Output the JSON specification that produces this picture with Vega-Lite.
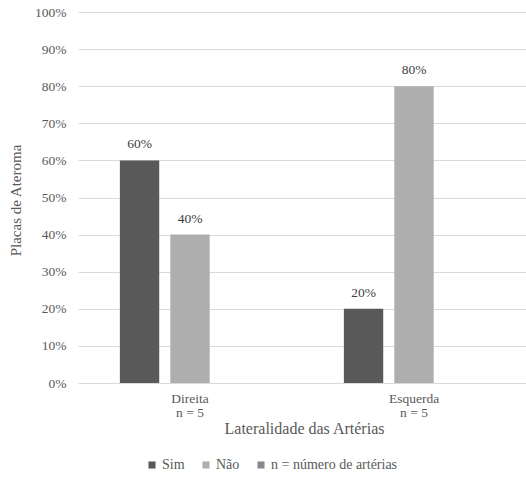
{
  "$schema": "https://vega.github.io/schema/vega-lite/v6.json",
  "width": 448,
  "height": 371,
  "autosize": {"type": "none"},
  "padding": {"left": 78, "top": 12, "right": 0, "bottom": 97},
  "background": "white",
  "config": {
    "font": "Liberation Serif, serif",
    "view": {"stroke": null}
  },
  "data": {
    "values": [
      {"lado": "Direita", "serie": "Sim", "valor": 0.6},
      {"lado": "Direita", "serie": "Não", "valor": 0.4},
      {"lado": "Direita", "serie": "n = número de artérias", "valor": null},
      {"lado": "Esquerda", "serie": "Sim", "valor": 0.2},
      {"lado": "Esquerda", "serie": "Não", "valor": 0.8},
      {"lado": "Esquerda", "serie": "n = número de artérias", "valor": null}
    ]
  },
  "encoding": {
    "x": {
      "field": "lado",
      "type": "nominal",
      "sort": ["Direita", "Esquerda"],
      "scale": {"paddingInner": 0, "paddingOuter": 0},
      "axis": {
        "title": "Lateralidade das Artérias",
        "titleFont": "Liberation Serif, serif",
        "titleFontSize": 16,
        "titleFontWeight": "normal",
        "titleColor": "#595959",
        "titleX": 226,
        "titleY": 45,
        "titleBaseline": "middle",
        "labelAngle": 0,
        "labelExpr": "[datum.value, 'n = 5']",
        "labelFont": "Liberation Serif, serif",
        "labelFontSize": 13.5,
        "labelColor": "#595959",
        "labelPadding": 8,
        "labelLineHeight": 14,
        "domain": false,
        "ticks": false
      }
    },
    "xOffset": {
      "field": "serie",
      "type": "nominal",
      "sort": ["Sim", "Não", "n = número de artérias"],
      "scale": {"paddingInner": 0.22, "paddingOuter": 0.83}
    },
    "y": {
      "field": "valor",
      "type": "quantitative",
      "scale": {"domain": [0, 1], "nice": false},
      "axis": {
        "title": "Placas de Ateroma",
        "titleFont": "Liberation Serif, serif",
        "titleFontSize": 15,
        "titleFontWeight": "normal",
        "titleColor": "#595959",
        "titleX": -63,
        "titleY": 188,
        "titleAngle": -90,
        "titleAlign": "center",
        "titleBaseline": "middle",
        "values": [0, 0.1, 0.2, 0.3, 0.4, 0.5, 0.6, 0.7, 0.8, 0.9, 1],
        "format": ".0%",
        "labelFont": "Liberation Serif, serif",
        "labelFontSize": 13.5,
        "labelColor": "#595959",
        "labelPadding": 12,
        "grid": true,
        "gridColor": "#d9d9d9",
        "gridWidth": 1,
        "domain": false,
        "ticks": false
      }
    }
  },
  "layer": [
    {
      "mark": {"type": "bar"},
      "encoding": {
        "color": {
          "field": "serie",
          "type": "nominal",
          "sort": ["Sim", "Não", "n = número de artérias"],
          "scale": {
            "domain": ["Sim", "Não", "n = número de artérias"],
            "range": ["#595959", "#aeaeae", "#898989"]
          },
          "legend": {
            "title": null,
            "orient": "none",
            "legendX": 67,
            "legendY": 446,
            "direction": "horizontal",
            "symbolType": "square",
            "symbolSize": 50,
            "symbolStrokeWidth": 0,
            "symbolOffset": 0,
            "labelOffset": 3,
            "columnPadding": 14,
            "labelFont": "Liberation Serif, serif",
            "labelFontSize": 14,
            "labelColor": "#595959"
          }
        }
      }
    },
    {
      "transform": [{"filter": "datum.valor != null"}],
      "mark": {
        "type": "text",
        "dy": -9,
        "baseline": "bottom",
        "font": "Liberation Serif, serif",
        "fontSize": 13.5,
        "color": "#404040"
      },
      "encoding": {
        "text": {"field": "valor", "type": "quantitative", "format": ".0%"}
      }
    }
  ]
}
